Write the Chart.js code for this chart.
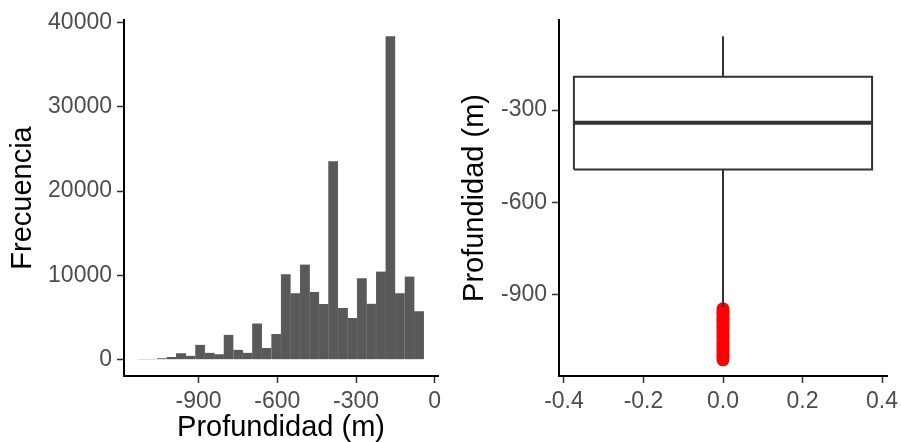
<!DOCTYPE html>
<html>
<head>
<meta charset="utf-8">
<script src="https://cdn.jsdelivr.net/npm/chart.js@4/dist/chart.umd.min.js"></script>
<style>
  html, body { margin: 0; padding: 0; background: #fff; }
  #wrap { position: relative; width: 901px; height: 442px; }
  .panel { position: absolute; top: 0; height: 442px; }
</style>
</head>
<body>
<div id="wrap">
  <div class="panel" style="left:0;width:450px"><canvas id="hist_canvas" width="450" height="442"></canvas></div>
  <div class="panel" style="left:450px;width:451px"><canvas id="box_canvas" width="451" height="442"></canvas></div>
</div>
<script>
// histogram: bin centres (m) and counts
var bin_centers = [-1112, -1076, -1040, -1003, -967, -931, -894, -858, -822, -786,
                   -749, -713, -677, -641, -604, -568, -532, -495, -459, -423,
                   -387, -350, -314, -278, -242, -205, -169, -133, -96, -60];
var bin_counts = [40, 50, 200, 320, 790, 475, 1780, 830, 670, 2970,
                  1190, 830, 4320, 1390, 3050, 10150, 7890, 11300, 8050, 6620,
                  23550, 6140, 4950, 9670, 6660, 10460, 38370, 7890, 9870, 5750];
var hist_x_ticks = [-900, -600, -300, 0];
var hist_y_ticks = [0, 10000, 20000, 30000, 40000];

// boxplot of depth
var box_stats = {
    low_whisker: -941,
    q1: -493,
    median: -341,
    q3: -192,
    high_whisker: -60
};
var box_outliers = [-946, -955, -963, -972, -980, -989, -998, -1006, -1015, -1024,
                    -1033, -1041, -1050, -1059, -1068, -1076, -1085, -1094, -1103, -1112];
var box_x_ticks = [-0.4, -0.2, 0.0, 0.2, 0.4];
var box_y_ticks = [-300, -600, -900];

var font_family = "'Liberation Sans', Arial, sans-serif";
var tick_font = {family: font_family, size: 23};
var title_font = {family: font_family, size: 29, lineHeight: 1};
var tick_color = '#4d4d4d';

// fixed axis size, and no extra room for overflowing tick labels
function fix_size(size) {
    return function (scale) {
        if (scale.isHorizontal()) scale.height = size;
        else scale.width = size;
        scale.paddingLeft = 0;
        scale.paddingRight = 0;
        scale.paddingTop = 0;
        scale.paddingBottom = 0;
    };
}

function set_ticks(values) {
    return function (scale) {
        scale.ticks = values.map(function (v) { return {value: v}; });
    };
}

function axis_common(extra) {
    var base = {
        grid: {display: true, drawOnChartArea: false, drawTicks: true, offset: false,
               tickLength: 7, tickColor: '#333333', tickWidth: 1.5},
        border: {display: true, color: '#000000', width: 2},
        ticks: {font: tick_font, color: tick_color, padding: 5, maxRotation: 0,
                autoSkip: false}
    };
    return Object.assign(base, extra);
}

// ggplot-like 5% expansion
function expand(lo, hi) {
    var d = (hi - lo) * 0.05;
    return [lo - d, hi + d];
}

var bin_width = bin_centers[1] - bin_centers[0];
var hist_x_range = expand(bin_centers[0] - bin_width / 2, bin_centers[bin_centers.length - 1] + bin_width / 2);
var hist_y_range = expand(0, Math.max.apply(null, bin_counts));

function draw_histogram(canvas_id) {
    var ctx = document.getElementById(canvas_id).getContext('2d');
    new Chart(ctx, {
        type: 'bar',
        data: {
            datasets: [{
                label: 'Frecuencia',
                data: bin_centers.map(function (c, i) { return {x: c, y: bin_counts[i]}; }),
                backgroundColor: '#595959',
                borderColor: '#6e6e6e',
                borderWidth: {left: 0.5, right: 0.5, top: 0, bottom: 0},
                barPercentage: 1.0,
                categoryPercentage: 1.0
            }]
        },
        options: {
            responsive: false,
            animation: false,
            layout: {padding: {top: 20, right: 12, left: 0, bottom: 0}},
            plugins: {legend: {display: false}, tooltip: {enabled: false}},
            scales: {
                x: axis_common({
                    type: 'linear',
                    offset: false,
                    min: hist_x_range[0],
                    max: hist_x_range[1],
                    afterBuildTicks: set_ticks(hist_x_ticks),
                    afterFit: fix_size(66),
                    title: {display: true, text: 'Profundidad (m)', font: title_font,
                            color: '#000000', padding: {top: 0, bottom: 0}}
                }),
                y: axis_common({
                    type: 'linear',
                    min: hist_y_range[0],
                    max: hist_y_range[1],
                    afterBuildTicks: set_ticks(hist_y_ticks),
                    afterFit: fix_size(124),
                    title: {display: true, text: 'Frecuencia', font: title_font,
                            color: '#000000', padding: {top: 8, bottom: 0}}
                })
            }
        }
    });
    // tick label format without thousands separator
    var chart = Chart.getChart(canvas_id);
    chart.options.scales.x.ticks.callback = function (v) { return String(v); };
    chart.options.scales.y.ticks.callback = function (v) { return String(v); };
    chart.update();
}

function draw_boxplot(canvas_id) {
    var ctx = document.getElementById(canvas_id).getContext('2d');
    var h = 0.375;
    var y_range = expand(Math.min.apply(null, box_outliers), box_stats.high_whisker);
    var line_style = {showLine: true, fill: false, borderColor: '#333333', pointRadius: 0,
                      tension: 0, borderJoinStyle: 'miter', borderCapStyle: 'butt'};
    new Chart(ctx, {
        type: 'scatter',
        data: {
            datasets: [
                Object.assign({label: 'mediana', order: 1, borderWidth: 4,
                    data: [{x: -h, y: box_stats.median}, {x: h, y: box_stats.median}]}, line_style),
                Object.assign({label: 'caja', order: 2, borderWidth: 2,
                    data: [{x: -h, y: box_stats.q1}, {x: h, y: box_stats.q1},
                           {x: h, y: box_stats.q3}, {x: -h, y: box_stats.q3},
                           {x: -h, y: box_stats.q1}]}, line_style),
                Object.assign({label: 'bigote superior', order: 3, borderWidth: 2,
                    data: [{x: 0, y: box_stats.q3}, {x: 0, y: box_stats.high_whisker}]}, line_style),
                Object.assign({label: 'bigote inferior', order: 3, borderWidth: 2,
                    data: [{x: 0, y: box_stats.q1}, {x: 0, y: box_stats.low_whisker}]}, line_style),
                {
                    label: 'atipicos', order: 5, showLine: false,
                    data: box_outliers.map(function (v) { return {x: 0, y: v}; }),
                    pointRadius: 6.5, pointBorderWidth: 0,
                    pointBackgroundColor: '#ff0000', pointBorderColor: '#ff0000'
                }
            ]
        },
        options: {
            responsive: false,
            animation: false,
            layout: {padding: {top: 20, right: 14, left: 0, bottom: 0}},
            plugins: {legend: {display: false}, tooltip: {enabled: false}},
            scales: {
                x: axis_common({
                    type: 'linear',
                    min: -0.4125,
                    max: 0.4125,
                    afterBuildTicks: set_ticks(box_x_ticks),
                    afterFit: fix_size(66),
                    title: {display: false}
                }),
                y: axis_common({
                    type: 'linear',
                    min: y_range[0],
                    max: y_range[1],
                    afterBuildTicks: set_ticks(box_y_ticks),
                    afterFit: fix_size(109),
                    title: {display: true, text: 'Profundidad (m)', font: title_font,
                            color: '#000000', padding: {top: 10, bottom: 0}}
                })
            }
        }
    });
    var chart = Chart.getChart(canvas_id);
    chart.options.scales.x.ticks.callback = function (v) { return v.toFixed(1); };
    chart.options.scales.y.ticks.callback = function (v) { return String(v); };
    chart.update();
}

draw_histogram('hist_canvas');
draw_boxplot('box_canvas');
</script>
</body>
</html>
